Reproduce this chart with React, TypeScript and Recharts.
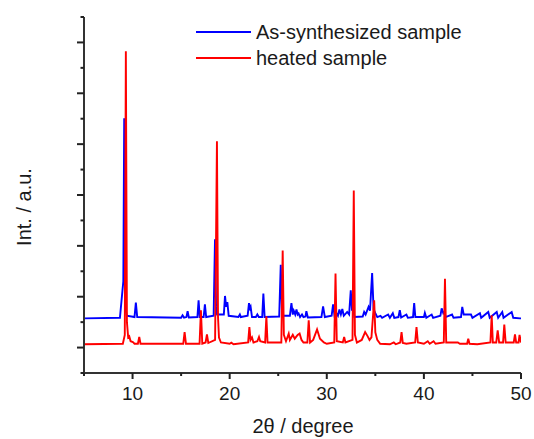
import React from "react";
import { LineChart, Line, XAxis, YAxis, Legend } from "recharts";

// 2θ positions and intensities (a.u., offset already applied)
const synthTheta = [
  5.0, 8.7, 8.95, 9.05, 9.14, 9.25, 9.4, 10.2, 10.34, 10.48, 15.0, 15.15, 15.3, 15.55, 15.67, 15.8,
  16.68, 16.8, 16.92, 17.32, 17.45, 17.58, 18.35, 18.49, 18.6, 18.7, 19.4, 19.52, 19.64, 19.76, 19.9,
  20.9, 21.05, 21.15, 21.85, 21.99, 22.1, 22.16, 22.3, 22.7, 22.85, 23.0, 23.35, 23.47, 23.6, 25.1,
  25.26, 25.4, 26.2, 26.36, 26.5, 26.6, 26.75, 26.88, 27.0, 27.1, 27.25, 27.45, 27.6, 27.8, 27.9,
  28.05, 29.45, 29.62, 29.8, 30.5, 30.65, 30.8, 30.99, 31.15, 31.3, 31.45, 31.6, 31.75, 32.1, 32.3,
  32.47, 32.6, 32.7, 32.85, 33.7, 33.85, 34.0, 34.3, 34.45, 34.67, 34.82, 35.0, 35.2, 35.53, 35.7,
  36.32, 36.5, 36.8, 36.95, 37.38, 37.52, 37.66, 38.2, 38.35, 38.88, 39.0, 39.12, 40.0, 40.1, 40.25,
  40.8, 40.95, 41.7, 41.83, 42.0, 42.1, 42.25, 42.9, 43.05, 43.82, 43.95, 44.1, 44.85, 45.0, 45.77,
  45.9, 46.63, 46.78, 47.5, 47.65, 48.07, 48.2, 49.04, 49.2, 49.9, 50.0,
];
const synthInt = [
  2.15, 2.17, 3.2, 3.6, 10.02, 2.6, 2.25, 2.2, 2.77, 2.2, 2.17, 2.27, 2.18, 2.2, 2.43, 2.18,
  2.2, 2.86, 2.2, 2.2, 2.7, 2.2, 2.25, 5.26, 2.6, 2.3, 2.3, 3.03, 2.6, 2.79, 2.25,
  2.2, 2.3, 2.2, 2.25, 2.75, 2.55, 2.6, 2.2, 2.2, 2.3, 2.2, 2.2, 3.12, 2.2, 2.22,
  4.26, 2.25, 2.25, 2.75, 2.3, 2.45, 2.3, 2.5, 2.3, 2.34, 2.2, 2.3, 2.2, 2.22, 2.43,
  2.18, 2.2, 2.62, 2.2, 2.25, 2.7, 2.25, 2.35, 2.25, 2.5, 2.3, 2.52, 2.25, 2.4, 2.3,
  3.25, 2.45, 2.6, 2.2, 2.22, 2.4, 2.3, 2.6, 2.45, 3.93, 2.5, 2.35, 2.2, 2.25, 2.17,
  2.3, 2.17, 2.35, 2.17, 2.2, 2.47, 2.18, 2.3, 2.17, 2.2, 2.75, 2.2, 2.2, 2.36, 2.17,
  2.3, 2.17, 2.25, 2.54, 2.35, 2.4, 2.2, 2.3, 2.17, 2.2, 2.6, 2.3, 2.3, 2.17, 2.35,
  2.17, 2.4, 2.17, 2.4, 2.17, 2.4, 2.17, 2.4, 2.17, 2.15, 2.15,
];

const heatedTheta = [
  5.0, 9.0, 9.2, 9.31, 9.42, 9.55, 9.66, 9.8, 10.03, 10.2, 10.55, 10.69, 10.82, 15.22, 15.36, 15.5,
  16.9, 17.04, 17.18, 17.52, 17.66, 17.8, 18.5, 18.69, 18.8, 18.9, 19.1, 20.0, 20.17, 20.4, 21.9,
  22.03, 22.15, 22.3, 22.45, 22.85, 23.02, 23.15, 23.65, 23.78, 23.9, 25.32, 25.46, 25.58, 25.8,
  26.08, 26.2, 26.5, 26.7, 27.0, 27.2, 27.4, 27.6, 28.0, 28.14, 28.28, 28.6, 29.0, 29.3, 29.7, 30.0,
  30.77, 30.9, 31.03, 31.65, 31.79, 31.92, 32.65, 32.78, 32.9, 33.1, 33.6, 33.95, 34.2, 34.4, 34.6,
  34.88, 35.0, 35.2, 35.5, 36.5, 36.9, 37.1, 37.57, 37.7, 37.83, 38.2, 39.1, 39.24, 39.38, 40.0,
  40.4, 40.6, 41.0, 41.2, 42.05, 42.17, 42.3, 43.5, 43.7, 44.45, 44.57, 44.7, 45.5, 46.85, 46.98,
  47.1, 47.45, 47.6, 47.75, 48.15, 48.28, 48.42, 49.25, 49.38, 49.5, 49.75, 49.85, 50.0,
];
const heatedInt = [
  1.13, 1.15, 1.5, 12.65, 2.0, 1.4, 1.44, 1.25, 1.22, 1.15, 1.15, 1.42, 1.15, 1.15, 1.61, 1.15,
  1.15, 2.47, 1.15, 1.2, 1.52, 1.18, 1.3, 9.11, 2.2, 1.39, 1.2, 1.15, 1.19, 1.13, 1.2,
  1.81, 1.3, 1.4, 1.2, 1.25, 1.42, 1.25, 1.2, 2.23, 1.2, 1.2, 4.82, 1.5, 1.25,
  1.55, 1.3, 1.5, 1.35, 1.5, 1.55, 1.3, 1.2, 1.2, 2.07, 1.2, 1.3, 1.71, 1.35, 1.2, 1.15,
  1.2, 3.91, 1.25, 1.2, 1.42, 1.2, 1.3, 7.18, 1.5, 1.2, 1.3, 1.61, 1.45, 1.3, 1.4,
  2.86, 1.6, 1.3, 1.15, 1.13, 1.2, 1.13, 1.2, 1.61, 1.18, 1.15, 1.2, 1.81, 1.2, 1.15,
  1.25, 1.15, 1.25, 1.15, 1.2, 3.71, 1.2, 1.2, 1.15, 1.15, 1.35, 1.15, 1.13, 1.2, 2.27,
  1.2, 1.2, 1.68, 1.2, 1.2, 1.9, 1.2, 1.2, 1.52, 1.2, 1.2, 1.5, 1.2,
];

const xTicks = [5, 10, 15, 20, 25, 30, 35, 40, 45, 50];
const yTicks = [0, 1, 2, 3, 4, 5, 6, 7, 8, 9, 10, 11, 12, 13, 14];
const seriesNames = ["As-synthesized sample", "heated sample"];
const seriesColors = ["#0000ff", "#ff0000"];

const FONT = "'Liberation Sans', Arial, sans-serif";

const synthData = synthTheta.map((x, i) => ({ x, y: synthInt[i] }));
const heatedData = heatedTheta.map((x, i) => ({ x, y: heatedInt[i] }));

function XTick(props: any) {
  const { x, y, payload } = props;
  const major = payload.value % 10 === 0;
  return (
    <g>
      <line x1={x} x2={x} y1={y} y2={y + (major ? 6 : 3)} stroke="#222" strokeWidth={2} />
      {major && (
        <text x={x} y={y + 27} textAnchor="middle" fontSize={19} fill="#1a1a1a" fontFamily={FONT}>
          {payload.value}
        </text>
      )}
    </g>
  );
}

function YTick(props: any) {
  const { x, y, payload } = props;
  const major = payload.value % 2 === 1;
  return <line x1={x - (major ? 7 : 3.5)} x2={x} y1={y} y2={y} stroke="#222" strokeWidth={2} />;
}

function LegendBox() {
  return (
    <div style={{ fontFamily: FONT, fontSize: 20, color: "#1a1a1a" }}>
      {seriesNames.map((name, i) => (
        <div key={name} style={{ display: "flex", alignItems: "center", height: 26 }}>
          <svg width={60} height={26}>
            <line x1={0} x2={55} y1={13} y2={13} stroke={seriesColors[i]} strokeWidth={2} />
          </svg>
          <span style={{ lineHeight: "26px" }}>{name}</span>
        </div>
      ))}
    </div>
  );
}

export default function App() {
  return (
    <div style={{ position: "absolute", left: 0, top: 0, width: 534, height: 439, background: "#fff" }}>
      <LineChart width={534} height={439} margin={{ top: 17, right: 13, bottom: 36, left: 74 }}>
        <XAxis
          type="number"
          dataKey="x"
          domain={[5, 50]}
          ticks={xTicks}
          allowDataOverflow
          tickLine={false}
          tickSize={0}
          tickMargin={0}
          tick={<XTick />}
          height={30}
          axisLine={{ stroke: "#333", strokeWidth: 2 }}
        />
        <YAxis
          type="number"
          dataKey="y"
          domain={[0, 14]}
          ticks={yTicks}
          allowDataOverflow
          tickLine={false}
          tickSize={0}
          tickMargin={0}
          tick={<YTick />}
          width={10}
          axisLine={{ stroke: "#333", strokeWidth: 2 }}
        />
        <Legend
          layout="horizontal"
          verticalAlign="middle"
          align="center"
          content={<LegendBox />}
          wrapperStyle={{ left: 196, top: 19, width: "auto", height: "auto" }}
        />
        <Line
          data={synthData}
          dataKey="y"
          name={seriesNames[0]}
          stroke={seriesColors[0]}
          strokeWidth={1.9}
          dot={false}
          type="linear"
          isAnimationActive={false}
        />
        <Line
          data={heatedData}
          dataKey="y"
          name={seriesNames[1]}
          stroke={seriesColors[1]}
          strokeWidth={1.9}
          dot={false}
          type="linear"
          isAnimationActive={false}
        />
        <text x={303} y={433} textAnchor="middle" fontSize={20} fill="#1a1a1a" fontFamily={FONT}>
          2θ / degree
        </text>
        <text
          x={31}
          y={207}
          textAnchor="middle"
          fontSize={20}
          fill="#1a1a1a"
          fontFamily={FONT}
          transform="rotate(-90, 31, 207)"
        >
          Int. / a.u.
        </text>
      </LineChart>
    </div>
  );
}
